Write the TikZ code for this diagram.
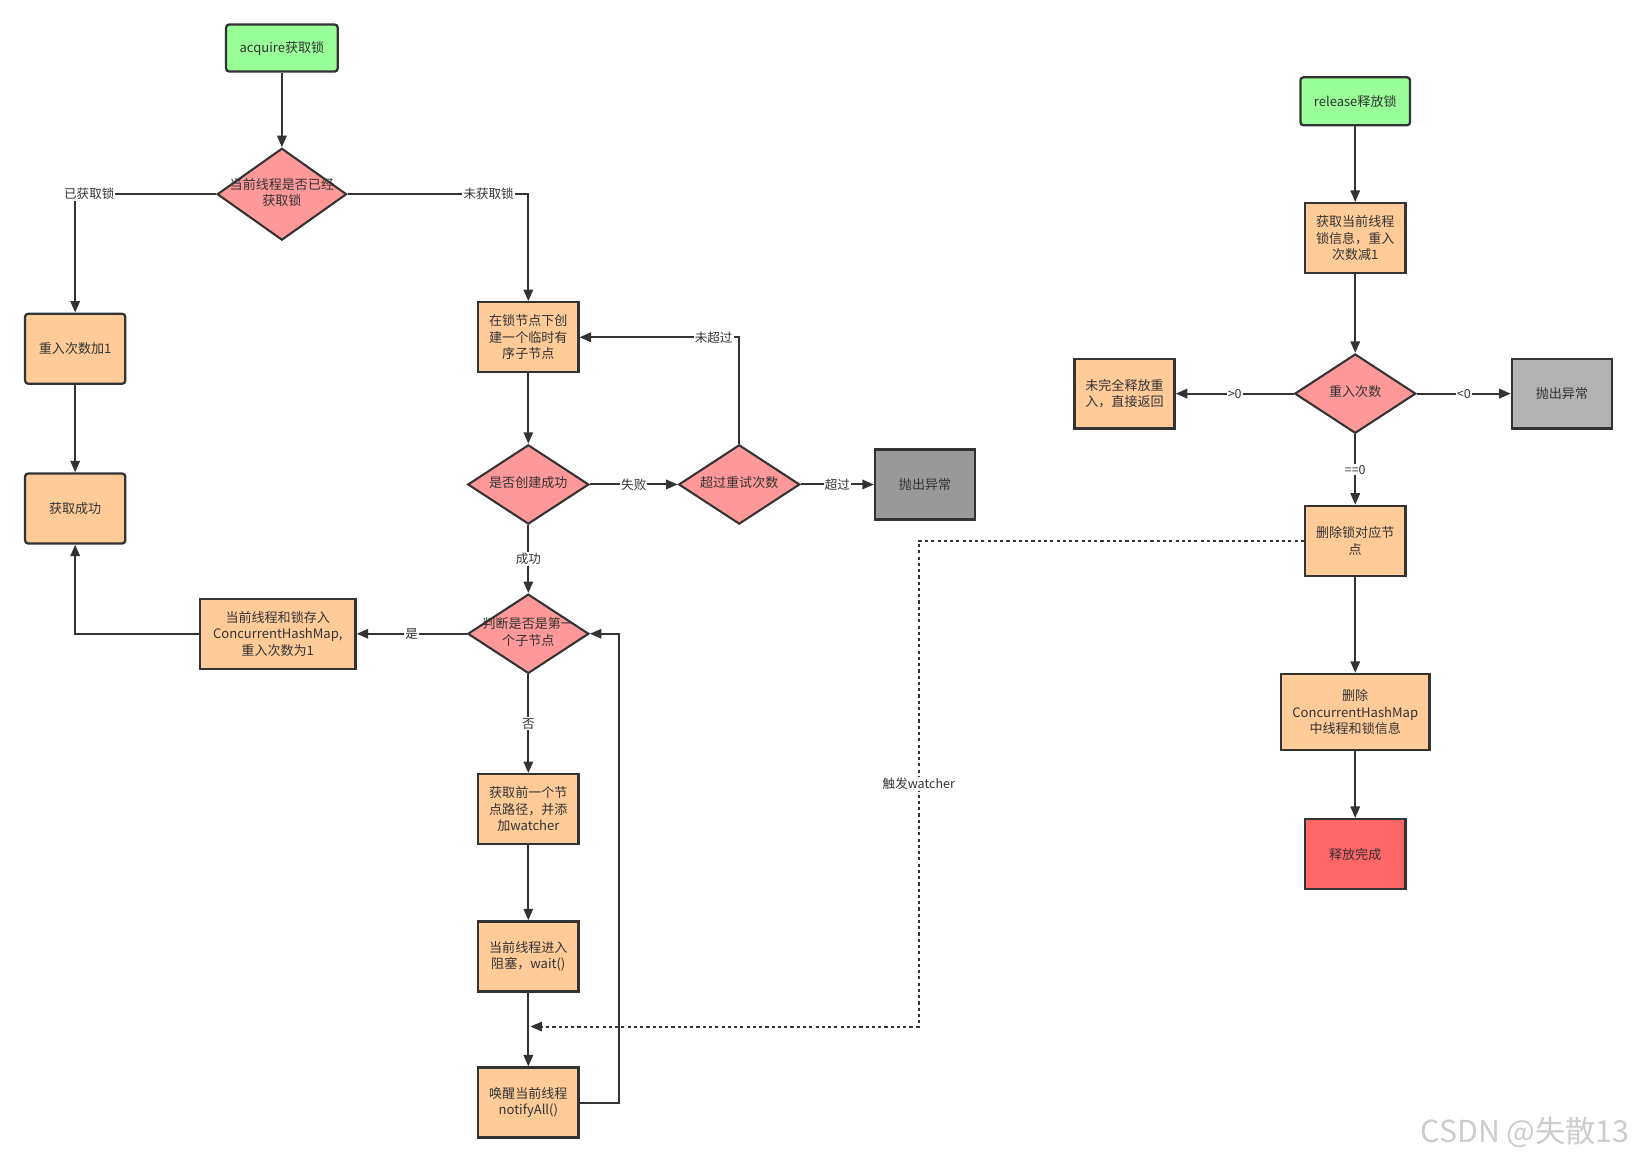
\documentclass[tikz,border=0pt]{standalone}
\usepackage{fontspec}
\setmainfont{Noto Sans CJK SC}
\usetikzlibrary{arrows.meta, shapes.geometric, positioning, calc}
\definecolor{ink}{HTML}{333333}
\definecolor{startfill}{HTML}{99FF99}
\definecolor{procfill}{HTML}{FFCC99}
\definecolor{decfill}{HTML}{FF9999}
\definecolor{errfill}{HTML}{999999}
\definecolor{errlight}{HTML}{B3B3B3}
\definecolor{donefill}{HTML}{FF6666}
\newcommand{\dlines}[1]{\makebox[0pt]{\raisebox{-1.5pt}{\begin{tabular}{@{}c@{}}#1\end{tabular}}}}
\tikzset{> = { Triangle[length = 11pt, width = 9pt] }}

\begin{document}
\begin{tikzpicture}[->, on grid, color = ink, line width = 1.9pt, font = \fontsize{12.5}{16}\selectfont,
	box/.style = { draw, fill = #1, line width = 2.2pt, minimum width = 96pt, minimum height = 67pt, align = center, inner sep = 2pt },
	box/.default = procfill,
	terminal/.style = { box = startfill, minimum width = 107pt, minimum height = 45pt, rounded corners = 3pt },
	decision/.style = { draw, diamond, fill = decfill, line width = 2pt, minimum width = 116pt, minimum height = 76pt, inner sep = 0pt },
	lbl/.style = { fill = white, inner sep = 1pt, font = \fontsize{12}{14}\selectfont },
	trigger/.style = { dash pattern = on 3pt off 3pt, line width = 1.9pt }]
				\useasboundingbox (0,0) rectangle (1565pt,-1111pt);

				\node [terminal] (acquire) at (270pt,-46pt) {acquire获取锁};
				\node [decision, minimum width = 124pt, minimum height = 88pt, below = 140pt of acquire] (cur) {\dlines{当前线程是否已经\\获取锁}};
				\node [box, rounded corners = 3pt, below left = 148pt and 198pt of cur] (reAdd) {重入次数加1};
				\node [box, rounded corners = 3pt, below = 153pt of reAdd] (getOk) {获取成功};
				\node [box, below right = 137pt and 236pt of cur] (create) {在锁节点下创\\建一个临时有\\序子节点};
				\node [decision, below = 141pt of create] (created) {\dlines{是否创建成功}};
				\node [decision, right = 202pt of created] (retry) {\dlines{超过重试次数}};
				\node [box = errfill, right = 178pt of retry] (throwA) {抛出异常};
				\node [decision, below = 143pt of created] (first) {\dlines{判断是否是第一\\个子节点}};
				\node [box, minimum width = 149pt, left = 240pt of first] (save) {当前线程和锁存入\\ConcurrentHashMap,\\重入次数为1};
				\node [box, below = 168pt of first] (prev) {获取前一个节\\点路径，并添\\加watcher};
				\node [box, below = 141pt of prev] (block) {当前线程进入\\阻塞，wait()};
				\node [box, below = 140pt of block] (wake) {唤醒当前线程\\notifyAll()};

				\node [terminal, minimum width = 105pt, minimum height = 46pt, below right = 51pt and 1028pt of acquire] (release) {release释放锁};
				\node [box, below = 131pt of release] (info) {获取当前线程\\锁信息，重入\\次数减1};
				\node [decision, below = 149pt of info] (count) {\dlines{重入次数}};
				\node [box, left = 221pt of count] (partial) {未完全释放重\\入，直接返回};
				\node [box = errlight, right = 198pt of count] (throwB) {抛出异常};
				\node [box, below = 141pt of count] (delNode) {删除锁对应节\\点};
				\node [box, minimum width = 142pt, minimum height = 73pt, below = 164pt of delNode] (delMap) {删除\\ConcurrentHashMap\\中线程和锁信息};
				\node [box = donefill, below = 136pt of delMap] (done) {释放完成};

				\node [anchor = east, text = gray!40, font = \fontsize{29}{31}\selectfont] (mark) at (1565pt,-1085pt) {CSDN @失散13};

				\draw (acquire) -- (cur);
				\draw (cur.west) -| node [lbl, pos = 0.45] {已获取锁} (reAdd.north);
				\draw (reAdd) -- (getOk);
				\draw (cur.east) -| node [lbl, pos = 0.39] {未获取锁} (create.north);
				\draw (create) -- (created);
				\draw (created) -- node [lbl] {失败} (retry);
				\draw (retry) -- node [lbl] {超过} (throwA);
				\draw (retry.north) |- node [lbl, pos = 0.58] {未超过} (create.east);
				\draw (created) -- node [lbl] {成功} (first);
				\draw (first) -- node [lbl] {是} (save);
				\draw (save.west) -| (getOk.south);
				\draw (first) -- node [lbl] {否} (prev);
				\draw (prev) -- (block);
				\draw (block) -- (wake);
				\draw (wake.east) -- ++(38pt,0) |- (first.east);

				\draw (release) -- (info);
				\draw (info) -- (count);
				\draw (count) -- node [lbl] {>0} (partial);
				\draw (count) -- node [lbl] {<0} (throwB);
				\draw (count) -- node [lbl] {==0} (delNode);
				\draw (delNode) -- (delMap);
				\draw (delMap) -- (done);

				\coordinate (wakeIn) at ($(block.south)!0.46!(wake.north) + (2pt,0)$);
				\draw [trigger] (delNode.west) -| ($(wakeIn) + (372pt,0)$) node [lbl, pos = 0.75] {触发watcher} -- (wakeIn);
			\end{tikzpicture}
\end{document}
